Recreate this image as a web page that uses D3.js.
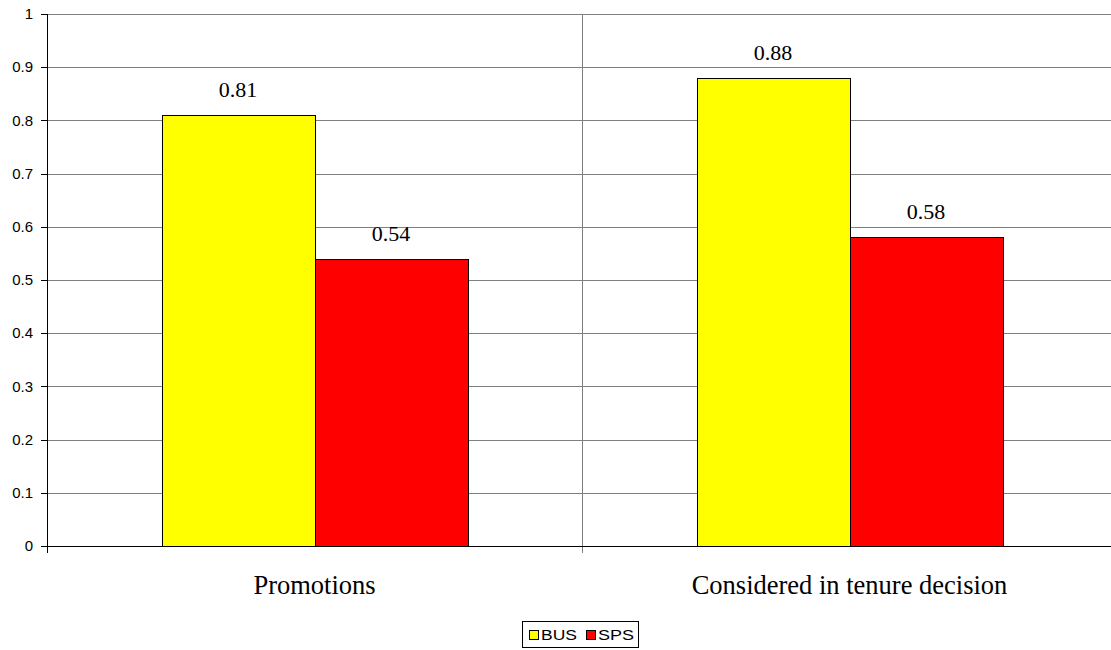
<!DOCTYPE html>
<html>
<head>
<meta charset="utf-8">
<script src="https://cdn.jsdelivr.net/npm/d3@7"></script>
<style>
  html, body { margin: 0; padding: 0; background: #fff; }
  svg { display: block; }
</style>
</head>
<body>
<svg id="chart" width="1111" height="650"></svg>
<script>
const categories = ["Promotions", "Considered in tenure decision"];
const seriesNames = ["BUS", "SPS"];
const busValues = [0.81, 0.88];
const spsValues = [0.54, 0.58];
const yTicks = [0, 0.1, 0.2, 0.3, 0.4, 0.5, 0.6, 0.7, 0.8, 0.9, 1];
const yTickLabels = ["0", "0.1", "0.2", "0.3", "0.4", "0.5", "0.6", "0.7", "0.8", "0.9", "1"];
const colors = ["#FFFF00", "#FF0000"];

(function () {
const svg = d3.select("#chart");
const plotLeft = 47, plotTop = 14, plotBottom = 546, catW = 535;
const plotRight = plotLeft + catW * categories.length;

const x = d3.scaleBand().domain(categories).range([plotLeft, plotRight]).paddingInner(0).paddingOuter(0);
const xs = d3.scaleBand().domain(seriesNames).range([0, x.bandwidth()]).paddingInner(0).paddingOuter(0.75);
const y = d3.scaleLinear().domain([0, 1]).range([plotBottom, plotTop]);

const series = [busValues, spsValues];

// gridlines
svg.append("g").selectAll("line").data(yTicks.filter(t => t > 0)).join("line")
  .attr("x1", plotLeft).attr("x2", 1111)
  .attr("y1", d => Math.round(y(d)) + 0.5).attr("y2", d => Math.round(y(d)) + 0.5)
  .attr("stroke", "#808080").attr("stroke-width", 1);

// category divider lines
svg.append("g").selectAll("line").data(categories.slice(1)).join("line")
  .attr("x1", d => Math.round(x(d)) + 0.5).attr("x2", d => Math.round(x(d)) + 0.5)
  .attr("y1", plotTop).attr("y2", plotBottom + 7)
  .attr("stroke", "#808080").attr("stroke-width", 1);

// bars
categories.forEach((c, ci) => {
  seriesNames.forEach((s, si) => {
    const v = series[si][ci];
    const bx = x(c) + xs(s);
    svg.append("rect")
      .attr("x", Math.round(bx) + 0.5)
      .attr("y", Math.round(y(v)) + 0.5)
      .attr("width", Math.round(xs.bandwidth()))
      .attr("height", Math.round(y(0)) - Math.round(y(v)))
      .attr("fill", colors[si]).attr("stroke", "#000").attr("stroke-width", 1);
    svg.append("text")
      .attr("x", bx + xs.bandwidth() / 2)
      .attr("y", y(v) - 18)
      .attr("text-anchor", "middle")
      .attr("font-family", "'Liberation Serif', 'Times New Roman', serif")
      .attr("font-size", 22)
      .attr("fill", "#000")
      .text(v.toFixed(2));
  });
});

// y axis
const yAxis = svg.append("g");
yAxis.append("line").attr("x1", plotLeft + 0.5).attr("x2", plotLeft + 0.5).attr("y1", plotTop).attr("y2", plotBottom + 7)
  .attr("stroke", "#000").attr("stroke-width", 1);
yAxis.selectAll("line.tick").data(yTicks).join("line").attr("class", "tick")
  .attr("x1", plotLeft - 6).attr("x2", plotLeft)
  .attr("y1", d => Math.round(y(d)) + 0.5).attr("y2", d => Math.round(y(d)) + 0.5)
  .attr("stroke", "#000");
yAxis.selectAll("text").data(yTicks).join("text")
  .attr("x", 33).attr("y", d => y(d)).attr("dy", "0.35em")
  .attr("text-anchor", "end")
  .attr("font-family", "'Liberation Sans', Arial, sans-serif")
  .attr("font-size", 15)
  .attr("fill", "#000")
  .text((d, i) => yTickLabels[i]);

// x axis
svg.append("line").attr("x1", plotLeft).attr("x2", 1111)
  .attr("y1", plotBottom + 0.5).attr("y2", plotBottom + 0.5)
  .attr("stroke", "#000").attr("stroke-width", 1);

svg.append("g").selectAll("text").data(categories).join("text")
  .attr("x", d => x(d) + x.bandwidth() / 2)
  .attr("y", 594)
  .attr("text-anchor", "middle")
  .attr("font-family", "'Liberation Serif', 'Times New Roman', serif")
  .attr("font-size", 26.5)
  .attr("fill", "#000")
  .text(d => d);

// legend
const lg = svg.append("g");
lg.append("rect").attr("x", 522.5).attr("y", 621.5).attr("width", 116).attr("height", 26)
  .attr("fill", "#fff").attr("stroke", "#000").attr("stroke-width", 1);
const legendX = [529, 586];
seriesNames.forEach((s, i) => {
  lg.append("rect").attr("x", legendX[i] + 0.5).attr("y", 630.5).attr("width", 9).attr("height", 9)
    .attr("fill", colors[i]).attr("stroke", "#000").attr("stroke-width", 1);
  lg.append("text").attr("x", legendX[i] + 12).attr("y", 640)
    .attr("font-family", "'Liberation Sans', Arial, sans-serif")
    .attr("font-size", 15)
    .attr("textLength", 36).attr("lengthAdjust", "spacingAndGlyphs")
    .attr("fill", "#000")
    .text(s);
});
})();
</script>
</body>
</html>
